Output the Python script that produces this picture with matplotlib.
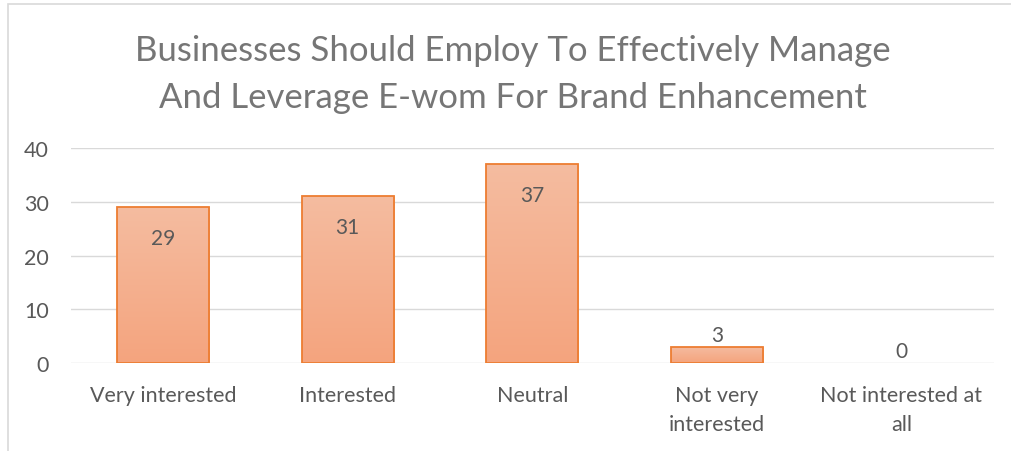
import numpy as np
import matplotlib.pyplot as plt
from matplotlib.patches import Rectangle

categories = ["Very interested", "Interested", "Neutral", "Not very\ninterested", "Not interested at\nall"]
values = [29, 31, 37, 3, 0]
title = "Businesses Should Employ To Effectively Manage\nAnd Leverage E-wom For Brand Enhancement"

grey = "#595959"
plt.rcParams['font.family'] = ['Lato', 'DejaVu Sans']

fig = plt.figure(figsize=(10.12, 4.52), dpi=100)
ax = fig.add_axes([0.070, 0.195, 0.912, 0.475])

# outer chart border like excel
fig.patches.append(Rectangle((8 / 1012, -0.01), 1.1, 1 - 5 / 452 + 0.01, transform=fig.transFigure,
                             fill=False, edgecolor="#D9D9D9", linewidth=1.2))

x = np.arange(len(categories))
bars = ax.bar(x, values, width=0.5, color="none", edgecolor="#ED7D31", linewidth=1.3, zorder=3)

# vertical gradient fill for each bar
grad = np.linspace(0, 1, 100).reshape(-1, 1)
top_c = np.array([0xF5, 0xBC, 0xA0]) / 255
bot_c = np.array([0xF4, 0xA4, 0x7E]) / 255
img = top_c * grad[..., None] + bot_c * (1 - grad[..., None])
for b in bars:
    if b.get_height() <= 0:
        b.set_linewidth(0)
        continue
    x0, w, h = b.get_x(), b.get_width(), b.get_height()
    im = ax.imshow(img, extent=[x0, x0 + w, 0, h], origin="lower", aspect="auto", zorder=2)
    im.set_clip_path(b)

for xi, v in zip(x, values):
    if v >= 10:
        ax.annotate(str(v), (xi, v), xytext=(0, -22), textcoords="offset points",
                    ha="center", va="center", fontsize=15, color=grey, zorder=4)
    else:
        ax.annotate(str(v), (xi, v), xytext=(0, 1), textcoords="offset points",
                    ha="center", va="bottom", fontsize=15, color=grey, zorder=4)

ax.set_xlim(-0.5, len(categories) - 0.5)
ax.set_ylim(0, 40)
ax.set_yticks([0, 10, 20, 30, 40])
ax.set_xticks(x)
ax.set_xticklabels(categories, linespacing=1.55)
ax.tick_params(axis="both", length=0, labelsize=15.5, colors=grey)
ax.tick_params(axis="x", pad=16)
ax.tick_params(axis="y", pad=16)
ax.grid(axis="y", color="#D9D9D9", linewidth=1)
ax.set_axisbelow(True)
for s in ax.spines.values():
    s.set_visible(False)

fig.text(0.507, 0.836, title, ha="center", va="center", fontsize=25, color="#767676",
         linespacing=1.58)

fig.savefig("out.png", dpi=100)
